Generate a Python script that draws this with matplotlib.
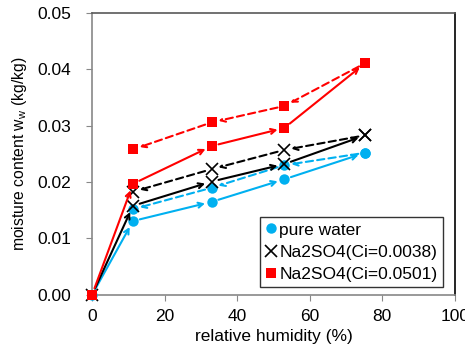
import matplotlib
matplotlib.use('Agg')
import matplotlib.pyplot as plt

plt.rcParams['font.family'] = ['Liberation Sans', 'DejaVu Sans']
plt.rcParams['mathtext.fontset'] = 'custom'
plt.rcParams['mathtext.rm'] = 'Liberation Sans'

rh = [0, 11.3, 33, 53, 75.3]
rh_des = [75.3, 53, 33, 11.3]

water_ads = [0.0, 0.0131, 0.0165, 0.0205, 0.0252]
water_des = [0.0252, 0.0230, 0.0190, 0.0152]
low_ads = [0.0, 0.0158, 0.0201, 0.0232, 0.0283]
low_des = [0.0283, 0.0257, 0.0223, 0.0183]
high_ads = [0.0, 0.0197, 0.0264, 0.0296, 0.0411]
high_des = [0.0411, 0.0335, 0.0306, 0.0258]

series = [
    ('pure water', water_ads, water_des, '#00B0F0', 'o', 7.5),
    ('Na2SO4(Ci=0.0038)', low_ads, low_des, 'black', 'x', 8),
    ('Na2SO4(Ci=0.0501)', high_ads, high_des, '#FF0000', 's', 6.5),
]


def draw_arrows(ax, xs, ys, color, style):
    for i in range(len(xs) - 1):
        ax.annotate('', xy=(xs[i + 1], ys[i + 1]), xytext=(xs[i], ys[i]),
                    arrowprops=dict(arrowstyle='->,head_length=0.35,head_width=0.18',
                                    color=color, lw=1.5, linestyle=style,
                                    shrinkA=5, shrinkB=5))


fig = plt.figure(figsize=(4.65, 3.51), dpi=100)
ax = fig.add_axes([0.198, 0.16, 0.78, 0.803])

for label, ads, des, color, marker, ms in series:
    draw_arrows(ax, rh, ads, color, '-')
    draw_arrows(ax, rh_des, des, color, (0, (3.5, 2)))
    mew = 1.2 if marker == 'x' else 0
    ax.plot(rh, ads, linestyle='none', marker=marker, color=color,
            markersize=ms, markeredgewidth=mew, label=label, clip_on=False, zorder=3)
    ax.plot(rh_des, des, linestyle='none', marker=marker, color=color,
            markersize=ms, markeredgewidth=mew, clip_on=False, zorder=3)

ax.set_xlim(0, 100)
ax.set_ylim(0, 0.05)
ax.set_xticks([0, 20, 40, 60, 80, 100])
ax.set_yticks([0, 0.01, 0.02, 0.03, 0.04, 0.05])
ax.yaxis.set_major_formatter(matplotlib.ticker.FormatStrFormatter('%.2f'))
ax.tick_params(direction='out', length=4, color='#888888', labelsize=12.5)
ax.tick_params(axis='x', pad=6)
ax.tick_params(axis='y', pad=11)

for side in ['left', 'bottom']:
    ax.spines[side].set_color('#888888')
ax.spines['top'].set_color('#595959')
ax.spines['right'].set_color('black')
for s in ax.spines.values():
    s.set_linewidth(1.2)

ax.set_xlabel('relative humidity (%)', fontsize=12.5, labelpad=4)
ax.set_ylabel('moisture content w$_\\mathrm{w}$ (kg/kg)', fontsize=11.3, labelpad=6)

leg = ax.legend(loc='lower right', fontsize=12.5, frameon=True, fancybox=False,
                handlelength=0.6, handletextpad=0.2, borderpad=0.3,
                labelspacing=0.4, borderaxespad=0, bbox_to_anchor=(0.967, 0.028))
leg.get_frame().set_edgecolor('black')
leg.get_frame().set_linewidth(1.0)

plt.savefig('out.png', dpi=100)
plt.close()
